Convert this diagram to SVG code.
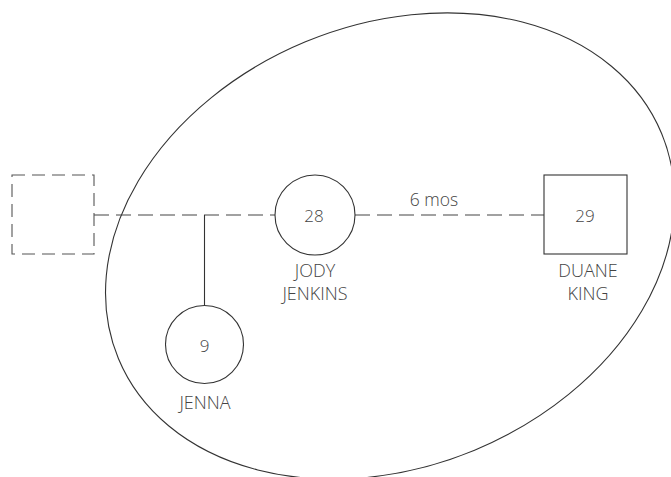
<svg xmlns="http://www.w3.org/2000/svg" width="671" height="477" viewBox="0 0 671 477">
  <style>
    .shape { fill: none; stroke: #333; stroke-width: 1.1; }
    .dash { fill: none; stroke: #444; stroke-width: 1.1; stroke-dasharray: 15 7; }
    .solid { fill: none; stroke: #333; stroke-width: 1.1; }
    text { font-family: "Open Sans", "Liberation Sans", sans-serif; font-weight: 300; fill: #444; text-anchor: middle; }
    .num { font-size: 17px; }
    .lbl { font-size: 18px; }
    .note { font-size: 17.5px; }
  </style>
  <rect width="671" height="477" fill="#fff"/>

  <!-- household boundary -->
  <g id="household">
    <ellipse class="shape" cx="390" cy="246" rx="294" ry="221" transform="rotate(-22.5 390 246)"/>
  </g>

  <!-- connectors -->
  <g id="connectors">
    <line class="dash" x1="94" y1="215" x2="275" y2="215"/>
    <line class="dash" x1="355" y1="215" x2="544" y2="215"/>
    <line class="solid" x1="204.5" y1="215" x2="204.5" y2="306"/>
    <text class="note" x="434" y="206">6 mos</text>
  </g>

  <!-- absent father (unknown) -->
  <g id="father">
    <rect x="12" y="175" width="82" height="79" fill="none" stroke="#555" stroke-width="1.1" stroke-dasharray="13 7"/>
  </g>

  <g id="jody">
    <circle class="shape" cx="315" cy="215" r="40"/>
    <text class="num" x="314" y="222">28</text>
    <text class="lbl" x="315" y="277">JODY</text>
    <text class="lbl" x="315" y="300">JENKINS</text>
  </g>

  <g id="duane">
    <rect class="shape" x="544" y="175" width="83" height="79"/>
    <text class="num" x="585" y="222">29</text>
    <text class="lbl" x="588" y="277">DUANE</text>
    <text class="lbl" x="588" y="300">KING</text>
  </g>

  <g id="jenna">
    <circle class="shape" cx="204.5" cy="344.5" r="39"/>
    <text class="num" x="204.5" y="352">9</text>
    <text class="lbl" x="205" y="409">JENNA</text>
  </g>
</svg>
